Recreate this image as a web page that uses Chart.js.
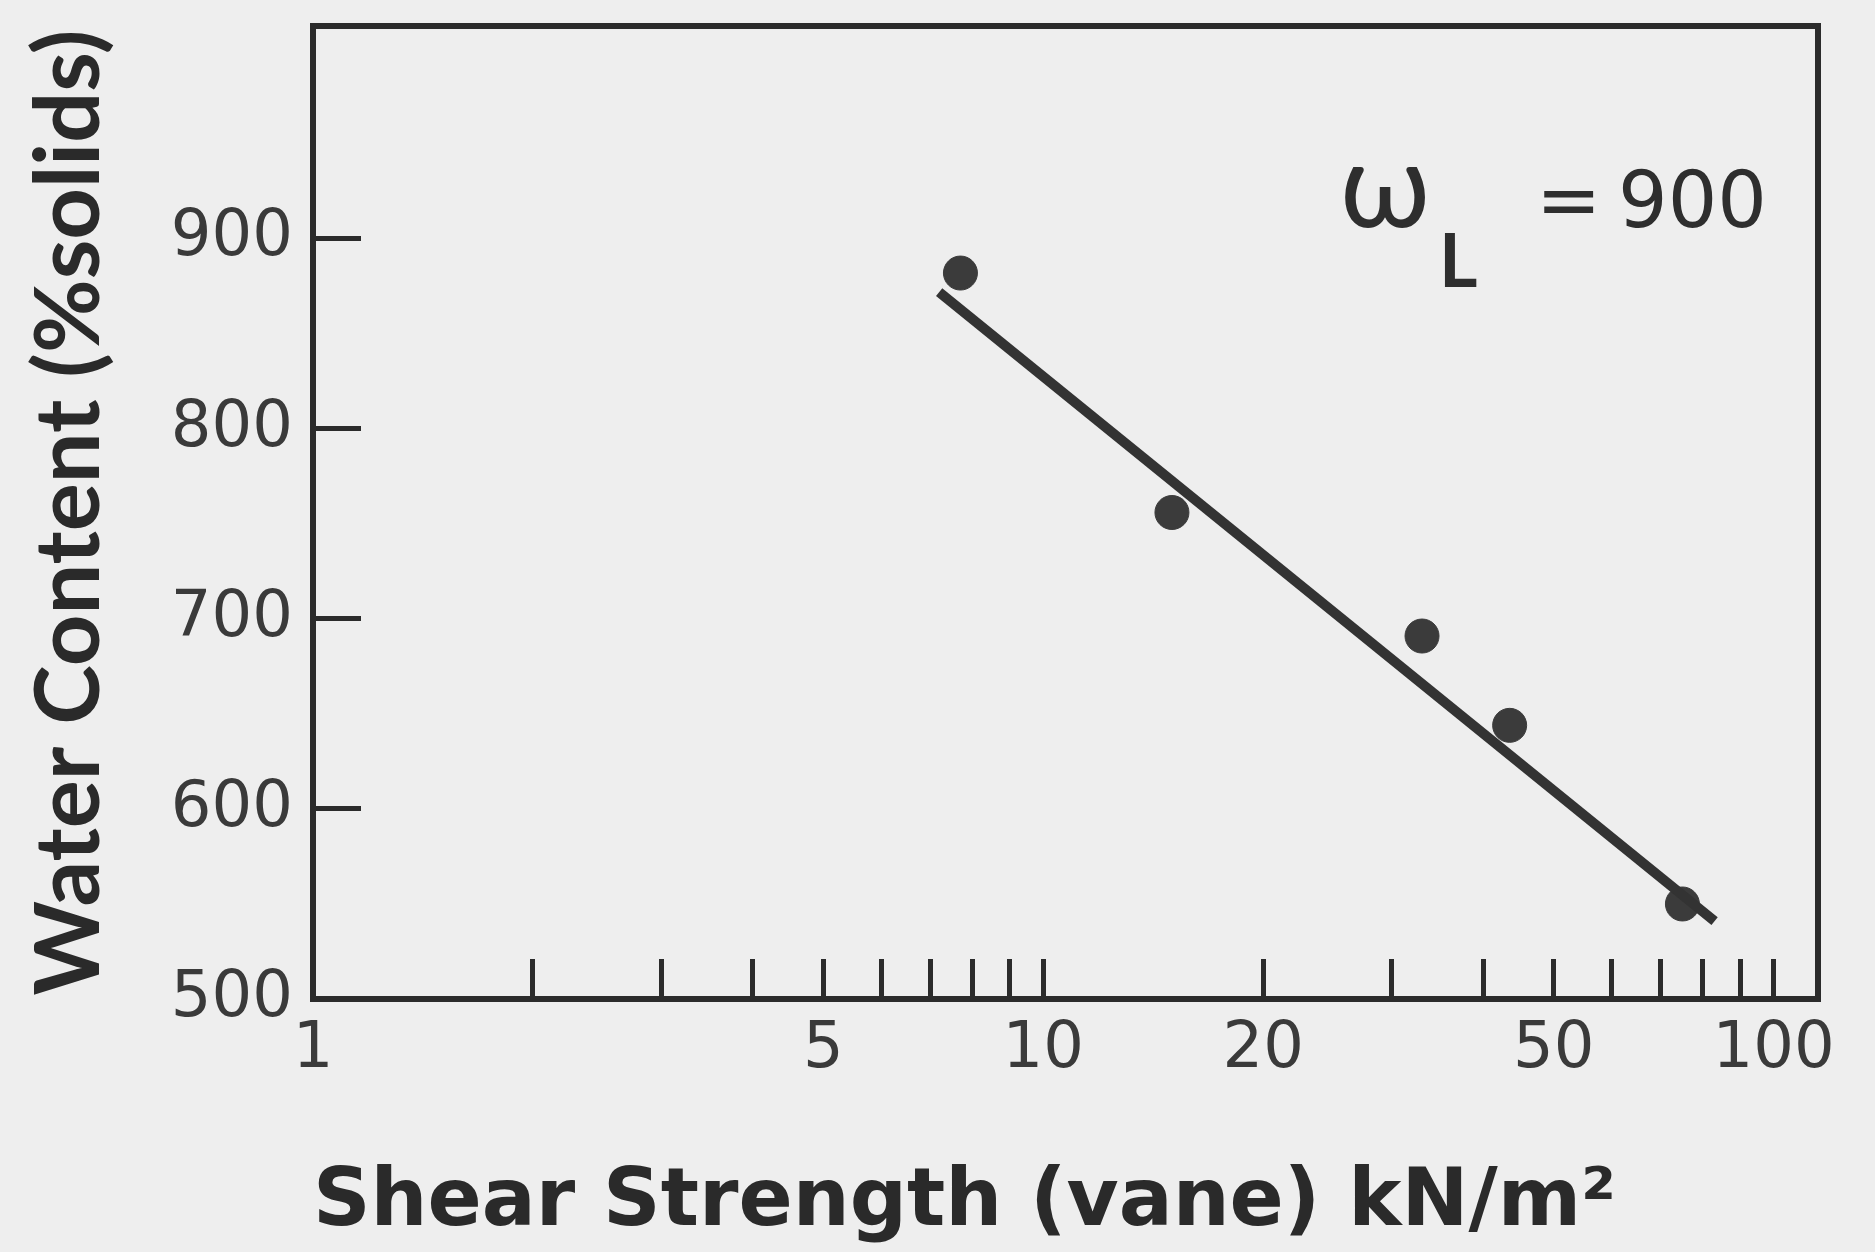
<!DOCTYPE html>
<html>
<head>
<meta charset="utf-8">
<script src="https://cdn.jsdelivr.net/npm/chart.js@4.4.1/dist/chart.umd.min.js"></script>
<style>
  html, body { margin: 0; padding: 0; background: #eeeeee; }
  #wrap { width: 1875px; height: 1252px; }
</style>
</head>
<body>
<div id="wrap"><canvas id="shear-chart" width="1875" height="1252"></canvas></div>
<script>
// values
const shearStrength = [7.7, 15, 33, 43.5, 75];
const waterContent = [882, 756, 691, 644, 550];
const fitShear = [7.2, 83];
const fitWater = [872, 541];

const xTickValues = [1, 2, 3, 4, 5, 6, 7, 8, 9, 10, 20, 30, 40, 50, 60, 70, 80, 90, 100];
const xTickLabels = { 1: "1", 5: "5", 10: "10", 20: "20", 50: "50", 100: "100" };
const yTickValues = [500, 600, 700, 800, 900];

const ink = "#2b2b2b";
const ctx = document.getElementById("shear-chart");

const paper = {
  id: "paper",
  beforeDraw(chart) {
    const c = chart.ctx;
    c.save();
    c.fillStyle = "#eeeeee";
    c.fillRect(0, 0, chart.width, chart.height);
    c.restore();
  },
  afterDraw(chart) {
    const c = chart.ctx;
    const a = chart.chartArea;
    c.save();
    // frame (top and right sides)
    c.strokeStyle = ink;
    c.lineWidth = 6;
    c.strokeRect(a.left, a.top, a.right - a.left, a.bottom - a.top);
    // liquid limit note
    c.fillStyle = "#2e2e2e";
    c.textBaseline = "alphabetic";
    c.font = "118px Lato";
    c.fillText("ω", a.right - 478, a.top + 201);
    c.font = "78px 'DejaVu Sans'";
    c.fillText("=", a.right - 282, a.top + 201);
    c.fillText("900", a.right - 200, a.top + 201);
    c.font = "bold 74px Lato";
    c.fillText("L", a.right - 379, a.top + 261);
    c.restore();
  },
};

new Chart(ctx, {
  type: "scatter",
  data: {
    datasets: [
      {
        label: "fit",
        data: fitShear.map((x, i) => ({ x: x, y: fitWater[i] })),
        showLine: true,
        borderColor: "#333333",
        borderWidth: 10,
        pointRadius: 0,
      },
      {
        label: "vane",
        data: shearStrength.map((x, i) => ({ x: x, y: waterContent[i] })),
        backgroundColor: "#3b3b3b",
        borderColor: "#3b3b3b",
        pointRadius: 17,
        pointHoverRadius: 17,
      },
    ],
  },
  options: {
    responsive: false,
    devicePixelRatio: 1,
    animation: false,
    plugins: {
      legend: false,
      tooltip: { enabled: false },
    },
    layout: {
      padding: { left: 0, right: 57, top: 26, bottom: 0 },
    },
    scales: {
      x: {
        type: "logarithmic",
        min: 1,
        max: 115,
        afterBuildTicks: (scale) => {
          scale.ticks = xTickValues.map((v) => ({ value: v }));
        },
        afterFit: (scale) => {
          scale.height = 253;
          scale.paddingLeft = 0;
          scale.paddingRight = 0;
        },
        border: { color: ink, width: 6 },
        grid: {
          drawOnChartArea: false,
          color: ink,
          lineWidth: 5,
          tickLength: -40,
        },
        ticks: {
          autoSkip: false,
          maxRotation: 0,
          padding: 53,
          color: "#3a3a3a",
          font: { family: "DejaVu Sans", size: 64 },
          callback: (v) => xTickLabels[v] || "",
        },
        title: {
          display: true,
          text: "Shear Strength (vane) kN/m²",
          align: "start",
          color: "#2a2a2a",
          font: { family: "DejaVu Sans", size: 80, weight: "bold" },
          padding: { top: 0, bottom: 0 },
        },
      },
      y: {
        min: 500,
        max: 1012,
        afterBuildTicks: (scale) => {
          scale.ticks = yTickValues.map((v) => ({ value: v }));
        },
        afterFit: (scale) => {
          scale.width = 313;
          scale.paddingTop = 0;
          scale.paddingBottom = 0;
        },
        border: { color: ink, width: 6 },
        grid: {
          drawOnChartArea: false,
          color: ink,
          lineWidth: 5,
          tickLength: -48,
        },
        ticks: {
          padding: 68,
          color: "#3a3a3a",
          font: { family: "DejaVu Sans", size: 64 },
        },
        title: {
          display: true,
          text: "Water Content (%solids)",
          color: "#2a2a2a",
          font: { family: "Lato", size: 90, weight: "bold" },
          padding: { top: 16, bottom: 0 },
        },
      },
    },
  },
  plugins: [paper],
});
</script>
</body>
</html>
